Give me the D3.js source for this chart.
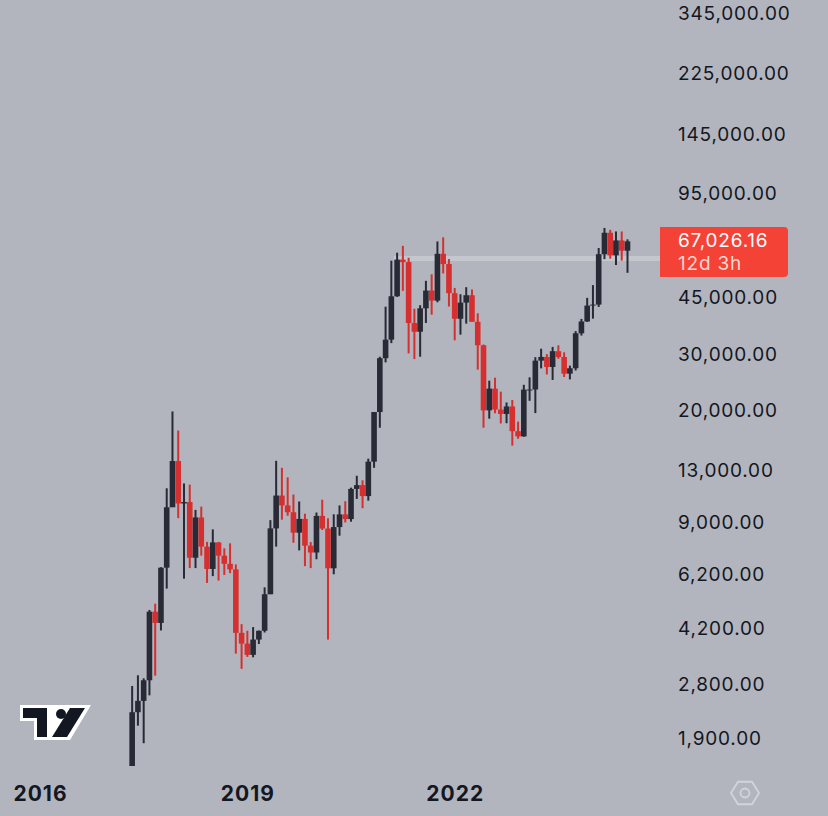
<!DOCTYPE html>
<html>
<head>
<meta charset="utf-8">
<script src="https://cdn.jsdelivr.net/npm/d3@7"></script>
<style>
  html, body { margin: 0; padding: 0; background: #b2b5be; }
  svg { display: block; }
</style>
</head>
<body>
<script>
// monthly candles, May 2017 .. Jul 2024 (last one still open)
var months = [
  "2017-05","2017-06","2017-07","2017-08","2017-09","2017-10","2017-11","2017-12",
  "2018-01","2018-02","2018-03","2018-04","2018-05","2018-06","2018-07","2018-08","2018-09","2018-10","2018-11","2018-12",
  "2019-01","2019-02","2019-03","2019-04","2019-05","2019-06","2019-07","2019-08","2019-09","2019-10","2019-11","2019-12",
  "2020-01","2020-02","2020-03","2020-04","2020-05","2020-06","2020-07","2020-08","2020-09","2020-10","2020-11","2020-12",
  "2021-01","2021-02","2021-03","2021-04","2021-05","2021-06","2021-07","2021-08","2021-09","2021-10","2021-11","2021-12",
  "2022-01","2022-02","2022-03","2022-04","2022-05","2022-06","2022-07","2022-08","2022-09","2022-10","2022-11","2022-12",
  "2023-01","2023-02","2023-03","2023-04","2023-05","2023-06","2023-07","2023-08","2023-09","2023-10","2023-11","2023-12",
  "2024-01","2024-02","2024-03","2024-04","2024-05","2024-06","2024-07"
];
var open = [
  1348,2286,2480,2875,4703,4338,6449,9946,
  13860,10221,10326,6926,9246,7500,6390,7730,7030,6630,6370,4040,
  3740,3450,3850,4100,5330,8550,10820,10080,9600,8290,9150,7550,
  7190,9350,8540,6420,8630,9450,9140,11350,11660,10780,13800,19700,
  28990,33110,45200,58800,57750,37300,35040,41460,47100,43820,61300,56950,
  46210,38470,43190,45540,37640,31800,19940,23300,20050,19430,20500,17170,
  16540,23140,23150,28480,29250,27220,30480,29230,25940,26970,34660,37720,
  42280,42580,61130,71290,60640,67480,62700
];
var high = [
  2760,2980,2916,4760,4980,6470,11400,19783,
  17250,11800,11700,9760,9990,7760,8490,7760,7410,7680,6600,4300,
  4100,4210,4110,5600,9070,13880,13200,12330,10900,10370,9500,7750,
  9580,10500,9190,9460,10080,10390,11450,12470,12070,14100,19480,29300,
  41950,58350,61780,64900,59600,41330,42400,50500,52920,67000,69000,59050,
  47990,45850,48240,47440,40000,31980,24670,25200,22800,21100,21480,18390,
  23950,25270,29200,31030,29840,31430,31800,30230,27480,35200,38420,44700,
  48970,63900,73800,72800,71980,71950,68000
];
var low = [
  1348,2076,1830,2580,2972,4110,5550,10800,
  9200,5960,6430,6430,7030,5780,6070,5880,6120,6200,3480,3120,
  3400,3390,3730,4050,5330,7500,9100,9360,7710,7300,6520,6430,
  6850,8450,3850,6150,8110,8920,8970,10560,9880,10430,13200,17600,
  28130,32300,45000,47000,30000,28800,29300,37330,39600,43300,53250,42000,
  32950,34320,37150,37700,26700,17600,18780,19520,18150,18180,15480,16260,
  16500,21350,19550,26950,25800,24800,28860,25330,24900,26540,34100,37620,
  38500,41880,59000,59200,56550,58400,53500
];
var close = [
  2286,2480,2875,4703,4338,6449,9946,13860,
  10221,10326,6926,9246,7500,6390,7730,7030,6630,6370,4040,3740,
  3450,3850,4100,5330,8550,10820,10080,9600,8290,9150,7550,7190,
  9350,8540,6420,8630,9450,9140,11350,11660,10780,13800,19700,28990,
  33110,45200,58800,57750,37300,35040,41460,47100,43820,61300,56950,46210,
  38470,43190,45540,37640,31800,19940,23300,20050,19430,20500,17170,16540,
  23140,23150,28480,29250,27220,30480,29230,25940,26970,34660,37720,42280,
  42580,61130,71290,60640,67480,62700,67026.16
];
var priceTicks = [345000,225000,145000,95000,45000,30000,20000,13000,9000,6200,4200,2800,1900];
var years = [2016, 2019, 2022];
var levelLine = {from: "2021-04", value: 59300};
var lastPrice = 67026.16;
var countdown = "12d 3h";

var W = 828, H = 816;
var plotRight = 660, plotBottom = 766;
var font = "Inter, 'Noto Sans', sans-serif";

var svg = d3.select("body").append("svg")
    .attr("width", W)
    .attr("height", H);

svg.append("rect").attr("width", W).attr("height", H).attr("fill", "#b2b5be");

function monthIndex(s) {
    var p = s.split("-");
    return (+p[0] - 2016) * 12 + (+p[1] - 1);
}

var candles = months.map(function(m, i) {
    return {m: m, i: monthIndex(m), o: open[i], h: high[i], l: low[i], c: close[i]};
});

var x = d3.scaleLinear().domain([0, 102]).range([40, 627.5]);
var y = d3.scaleLog().domain([1900, 345000]).range([738, 13]);

var fmt = d3.format(",.2f");

svg.append("clipPath").attr("id", "plot")
  .append("rect").attr("x", 0).attr("y", 0).attr("width", plotRight).attr("height", plotBottom);

var plot = svg.append("g").attr("clip-path", "url(#plot)");

// horizontal level line
plot.append("line")
    .attr("x1", x(monthIndex(levelLine.from)) - 9)
    .attr("x2", plotRight)
    .attr("y1", y(levelLine.value))
    .attr("y2", y(levelLine.value))
    .attr("stroke", "#c4c7ce")
    .attr("stroke-width", 5);

var up = "#282b36", down = "#d5302f";
var bodyW = 5.6, wickW = 2;

var cg = plot.selectAll("g.candle")
    .data(candles)
    .enter().append("g")
    .attr("class", "candle")
    .attr("fill", function(d) { return d.c >= d.o ? up : down; });

cg.append("rect")
    .attr("x", function(d) { return x(d.i) - wickW / 2; })
    .attr("width", wickW)
    .attr("y", function(d) { return y(d.h); })
    .attr("height", function(d) { return y(d.l) - y(d.h); });

cg.append("rect")
    .attr("x", function(d) { return x(d.i) - bodyW / 2; })
    .attr("width", bodyW)
    .attr("y", function(d) { return y(Math.max(d.o, d.c)); })
    .attr("height", function(d) { return Math.max(1, Math.abs(y(d.o) - y(d.c))); });

// price axis on the right
var yAxis = d3.axisRight(y)
    .tickValues(priceTicks)
    .tickSize(0)
    .tickPadding(0)
    .tickFormat(fmt);

var ya = svg.append("g")
    .attr("transform", "translate(678,0)")
    .call(yAxis);
ya.select(".domain").remove();
ya.selectAll("text")
    .attr("fill", "#131722")
    .attr("dy", "0.36em")
    .style("font-family", font)
    .style("font-size", "19px")
    .style("letter-spacing", "0.8px");

// last price tag
var tag = svg.append("g");
tag.append("path")
    .attr("d", "M660,227 H784 Q788,227 788,231 V273 Q788,277 784,277 H660 Z")
    .attr("fill", "#f44336");
tag.append("text")
    .attr("x", 678).attr("y", 247)
    .attr("fill", "#ffffff")
    .style("font-family", font)
    .style("font-size", "19px")
    .style("letter-spacing", "0.8px")
    .text(fmt(lastPrice));
tag.append("text")
    .attr("x", 678).attr("y", 270)
    .attr("fill", "#fdd5d1")
    .style("font-family", font)
    .style("font-size", "19px")
    .style("letter-spacing", "0.8px")
    .text(countdown);

// time axis
var xAxis = d3.axisBottom(x)
    .tickValues(years.map(function(yr) { return (yr - 2016) * 12; }))
    .tickSize(0)
    .tickPadding(0)
    .tickFormat(function(d) { return 2016 + d / 12; });

var xa = svg.append("g")
    .attr("transform", "translate(0,786)")
    .call(xAxis);
xa.select(".domain").remove();
xa.selectAll("text")
    .attr("fill", "#131722")
    .attr("dy", "0.72em")
    .style("font-family", font)
    .style("font-size", "21px")
    .style("font-weight", "700")
    .style("letter-spacing", "1px");

// tradingview mark
var logo = svg.append("g");
logo.append("path")
    .attr("d", "M20,705 H91 L70,740 H34 V721 H20 Z")
    .attr("fill", "#ffffff");
logo.append("path")
    .attr("d", "M23,708 H47 V737 H37 V718 H23 Z")
    .attr("fill", "#131722");
logo.append("circle")
    .attr("cx", 61).attr("cy", 714).attr("r", 5)
    .attr("fill", "#131722");
logo.append("path")
    .attr("d", "M70,708 H85 L67,737 H52 Z")
    .attr("fill", "#131722");

// settings hexagon
var hex = svg.append("g").attr("transform", "translate(745,793)");
hex.append("path")
    .attr("d", d3.range(6).map(function(k) {
        var a = Math.PI / 3 * k;
        return (k ? "L" : "M") + (14 * Math.cos(a)) + "," + (13 * Math.sin(a));
    }).join("") + "Z")
    .attr("fill", "none")
    .attr("stroke", "#d1d4dc")
    .attr("stroke-width", 1.8);
hex.append("circle")
    .attr("r", 4.5)
    .attr("fill", "none")
    .attr("stroke", "#d1d4dc")
    .attr("stroke-width", 1.8);
</script>
</body>
</html>
